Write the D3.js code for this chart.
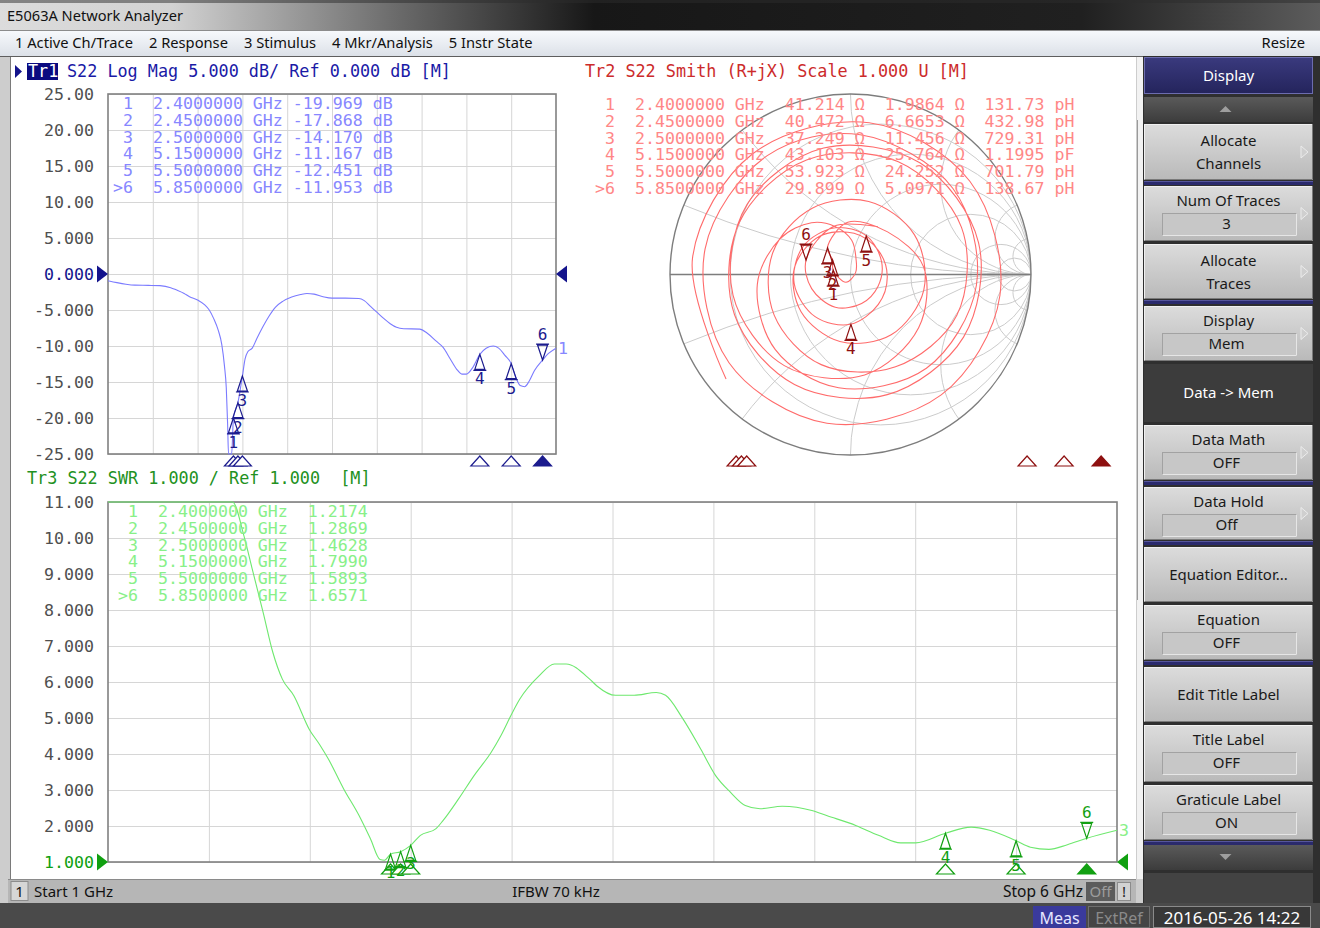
<!DOCTYPE html>
<html>
<head>
<meta charset="utf-8">
<title>E5063A Network Analyzer</title>
<script src="https://cdn.jsdelivr.net/npm/d3@7"></script>
<style>
  html, body { margin: 0; padding: 0; background: #ffffff; overflow: hidden; }
  svg { display: block; }
  text { white-space: pre; }
</style>
</head>
<body>
<svg id="screen" width="1320" height="928"></svg>
<script>
// ---------- data ----------
const menuItems = ["1 Active Ch/Trace", "2 Response", "3 Stimulus", "4 Mkr/Analysis", "5 Instr State"];

// stimulus 1 GHz .. 6 GHz, 10 divisions
const freqGrid = [1.5, 2, 2.5, 3, 3.5, 4, 4.5, 5, 5.5];
const logMagTicks = [25, 20, 15, 10, 5, 0, -5, -10, -15, -20, -25];
const logMagTickLabels = ["25.00", "20.00", "15.00", "10.00", "5.000", "0.000", "-5.000", "-10.00", "-15.00", "-20.00", "-25.00"];
const swrTicks = [11, 10, 9, 8, 7, 6, 5, 4, 3, 2, 1];
const swrTickLabels = ["11.00", "10.00", "9.000", "8.000", "7.000", "6.000", "5.000", "4.000", "3.000", "2.000", "1.000"];
const smithResistances = [0.2, 0.5, 1, 2, 5, 10];
const smithReactances = [0.2, 0.5, 1, 2, 5, 10];

// markers
const markerIds = ["1", "2", "3", "4", "5", "6"];
const markerFreqs = [2.4, 2.45, 2.5, 5.15, 5.5, 5.85];
const markerFreqText = ["2.4000000", "2.4500000", "2.5000000", "5.1500000", "5.5000000", "5.8500000"];
const markerLogMag = [-19.969, -17.868, -14.170, -11.167, -12.451, -11.953];
const markerSwr = [1.2174, 1.2869, 1.4628, 1.7990, 1.5893, 1.6571];
const markerR = [41.214, 40.472, 37.249, 43.103, 53.923, 29.899];
const markerX = [1.9864, 6.6653, 11.456, -25.764, 24.252, 5.0971];
const markerLC = ["131.73 pH", "432.98 pH", "729.31 pH", "1.1995 pF", "701.79 pH", "138.67 pH"];
const activeMarker = 5;

// Tr1 S22 log magnitude (GHz, dB)
const logMagFreq = [1.00, 1.10, 1.20, 1.30, 1.45, 1.58, 1.70, 1.76, 1.85, 1.91,
  2.00, 2.08, 2.13, 2.18, 2.23, 2.27, 2.30, 2.32, 2.335, 2.345,
  2.36, 2.38, 2.40, 2.45, 2.50, 2.53, 2.56, 2.61, 2.66, 2.73,
  2.80, 2.87, 2.95, 3.05, 3.15, 3.22, 3.30, 3.40, 3.50, 3.65,
  3.80, 3.86, 3.93, 4.00, 4.07, 4.15, 4.22, 4.30, 4.48, 4.56,
  4.66, 4.74, 4.82, 4.89, 4.95, 5.00, 5.07, 5.15, 5.22, 5.30,
  5.36, 5.43, 5.50, 5.55, 5.60, 5.65, 5.70, 5.76, 5.85, 5.92, 6.00];
const logMagDb = [-0.93, -1.20, -1.42, -1.55, -1.58, -1.62, -1.90, -2.20, -2.70, -3.15,
  -3.60, -4.30, -5.00, -6.20, -7.80, -9.80, -12.80, -15.80, -20.80, -27.0,
  -32.0, -26.0, -19.969, -17.868, -14.170, -11.8, -10.8, -10.3, -9.0, -7.3,
  -5.8, -4.6, -3.8, -3.2, -2.85, -2.70, -2.80, -3.15, -3.35, -3.35,
  -3.40, -3.70, -4.50, -5.30, -6.10, -6.90, -7.40, -7.60, -7.65, -8.20,
  -9.30, -10.20, -11.80, -13.20, -13.90, -13.90, -13.00, -11.167, -10.30, -10.00,
  -10.30, -11.30, -12.451, -14.30, -15.50, -15.65, -14.90, -13.40, -11.953, -11.00, -10.30];

// Tr2 S22 on the Smith chart (|reflection|, phase in degrees, unwrapped)
const smithMag = [0.900, 0.880, 0.861, 0.847, 0.839, 0.836, 0.835, 0.834, 0.832, 0.818,
  0.804, 0.776, 0.741, 0.700, 0.668, 0.631, 0.589, 0.519, 0.437, 0.359,
  0.280, 0.190, 0.090, 0.030, 0.050, 0.099, 0.128, 0.195,
  0.290, 0.313, 0.407, 0.479, 0.562, 0.624, 0.661, 0.692, 0.716, 0.729,
  0.731, 0.716, 0.696, 0.684, 0.680, 0.680, 0.680, 0.678, 0.668, 0.631,
  0.569, 0.525, 0.479, 0.447, 0.424, 0.417, 0.417, 0.415, 0.403, 0.376,
  0.343, 0.313, 0.272, 0.229, 0.204, 0.204, 0.226, 0.276,
  0.305, 0.316, 0.305, 0.272, 0.232,
  0.186, 0.166, 0.172, 0.200, 0.229, 0.259, 0.282, 0.305];
const smithPhase = [-140, -186, -231, -277, -322, -368, -413, -459, -504, -550,
  -595, -634, -680, -725, -771, -816, -855, -894, -927, -953,
  -972, -992, -1010, -1060, -1200, -1274, -1299, -1309,
  -1347, -1391, -1434, -1478, -1522, -1566, -1610, -1654, -1698, -1742,
  -1786, -1829, -1873, -1917, -1961, -2005, -2049, -2093, -2137, -2181,
  -2224, -2268, -2312, -2356, -2400, -2444, -2488, -2532, -2576, -2619,
  -2663, -2707, -2751, -2795, -2839, -2883, -2927, -2970,
  -3010, -3051, -3091, -3132, -3172,
  -3218, -3263, -3309, -3355, -3400, -3438, -3491, -3540];

// Tr3 S22 SWR (GHz, ratio)
const swrFreq = [1.00, 1.20, 1.40, 1.55, 1.617, 1.674, 1.712, 1.769, 1.817, 1.864,
  1.921, 1.997, 2.05, 2.092, 2.168, 2.244, 2.30, 2.348, 2.37, 2.40,
  2.45, 2.50, 2.548, 2.624, 2.66, 2.738, 2.814, 2.899, 2.946, 3.003,
  3.04, 3.136, 3.212, 3.27, 3.387, 3.423, 3.515, 3.607, 3.717, 3.763,
  3.845, 3.937, 4.011, 4.084, 4.158, 4.231, 4.341, 4.488, 4.561, 4.708,
  4.818, 4.928, 5.002, 5.15, 5.277, 5.369, 5.50, 5.571, 5.663, 5.754, 5.85, 6.00];
const swrVal = [18.5, 12.6, 11.4, 11.1, 11.0, 10.05, 9.2, 7.93, 6.82, 6.08,
  5.62, 4.69, 4.25, 3.86, 3.03, 2.29, 1.65, 1.07, 1.05, 1.2174,
  1.2869, 1.4628, 1.74, 1.92, 2.15, 2.76, 3.40, 4.05, 4.50, 5.14,
  5.52, 6.17, 6.50, 6.50, 6.08, 5.89, 5.63, 5.63, 5.71, 5.63,
  5.01, 4.14, 3.40, 2.94, 2.57, 2.48, 2.55, 2.43, 2.29, 2.01,
  1.74, 1.53, 1.53, 1.799, 1.97, 1.88, 1.5893, 1.41, 1.35, 1.48, 1.6571, 1.88];

// soft keys
const softkeys = [
  { label: ["Allocate", "Channels"], arrow: true },
  { label: ["Num Of Traces"], value: "3", arrow: true },
  { label: ["Allocate", "Traces"], arrow: true },
  { label: ["Display"], value: "Mem", arrow: true },
  { label: ["Data -> Mem"], dark: true },
  { label: ["Data Math"], value: "OFF", arrow: true },
  { label: ["Data Hold"], value: "Off", arrow: true },
  { label: ["Equation Editor..."] },
  { label: ["Equation"], value: "OFF" },
  { label: ["Edit Title Label"] },
  { label: ["Title Label"], value: "OFF" },
  { label: ["Graticule Label"], value: "ON" }
];

// ---------- setup ----------
const MONO = "'DejaVu Sans Mono', monospace";
const UI = "'Noto Sans', 'DejaVu Sans', sans-serif";
const TR1 = { header: "#1a1aa6", trace: "#7b7bff", table: "#8787ff", marker: "#1c1c8e", ref: "#14148c" };
const TR2 = { header: "#cc2b2b", trace: "#ff6b6b", table: "#ff8787", marker: "#8e1010" };
const TR3 = { header: "#229122", trace: "#6ee86e", table: "#88f088", marker: "#12a012", ref: "#10a010" };

const svg = d3.select("#screen");
const defs = svg.append("defs");

function gradient(id, stops, x2, y2) {
  const g = defs.append("linearGradient").attr("id", id)
    .attr("x1", 0).attr("y1", 0).attr("x2", x2).attr("y2", y2);
  stops.forEach(s => g.append("stop").attr("offset", s[0]).attr("stop-color", s[1]));
}
gradient("titleGrad", [[0, "#dcdcdc"], [0.13, "#d2d2d2"], [0.3, "#6b6b6b"], [0.45, "#171717"], [0.82, "#202020"], [1, "#5c5c5c"]], 1, 0);
gradient("menuGrad", [[0, "#f8fafd"], [1, "#dce1e8"]], 0, 1);
gradient("keyGrad", [[0, "#dcdcdc"], [1, "#b9b9b9"]], 0, 1);
gradient("barGrad", [[0, "#5a5a5a"], [1, "#3c3c3c"]], 0, 1);
gradient("navyGrad", [[0, "#3a3a7e"], [1, "#24245c"]], 0, 1);

function label(g, x, y, txt, opts) {
  return g.append("text")
    .attr("x", x).attr("y", y)
    .attr("xml:space", "preserve")
    .attr("font-family", opts.font || MONO)
    .attr("font-size", opts.size || 16.6)
    .attr("fill", opts.fill || "#000")
    .attr("text-anchor", opts.anchor || "start")
    .text(txt);
}

// ---------- window chrome ----------
svg.append("rect").attr("width", 1320).attr("height", 928).attr("fill", "#3f3f3f");
svg.append("rect").attr("width", 1320).attr("height", 30).attr("fill", "url(#titleGrad)");
svg.append("rect").attr("width", 1320).attr("height", 3).attr("fill", "#2c2c2c").attr("opacity", 0.5);
label(svg, 7, 21, "E5063A Network Analyzer", { font: UI, size: 14.6, fill: "#111" });

svg.append("rect").attr("y", 30).attr("width", 1320).attr("height", 26).attr("fill", "url(#menuGrad)");
svg.append("line").attr("x1", 0).attr("x2", 1320).attr("y1", 30.5).attr("y2", 30.5).attr("stroke", "#8c8c8c");
let menuX = 15;
menuItems.forEach(m => {
  const t = label(svg, menuX, 48, m, { font: UI, size: 14.7, fill: "#111" });
  menuX += t.node().getComputedTextLength() + 16;
});
label(svg, 1305, 48, "Resize", { font: UI, size: 14.7, fill: "#111", anchor: "end" });

// instrument frame and white measurement area
svg.append("rect").attr("y", 56).attr("width", 1143).attr("height", 847).attr("fill", "#cdcdcd");
svg.append("line").attr("x1", 0).attr("x2", 1143).attr("y1", 56.5).attr("y2", 56.5).attr("stroke", "#5e5e5e");
svg.append("rect").attr("x", 11).attr("y", 57).attr("width", 1125).attr("height", 822).attr("fill", "#ffffff");
svg.append("line").attr("x1", 10.5).attr("x2", 10.5).attr("y1", 57).attr("y2", 903).attr("stroke", "#7a7a7a");
svg.append("rect").attr("x", 1137).attr("y", 57).attr("width", 6).attr("height", 822).attr("fill", "#f2f2f2");
svg.append("line").attr("x1", 1137.5).attr("x2", 1137.5).attr("y1", 120).attr("y2", 600).attr("stroke", "#9a9a9a");

// ---------- shared drawing helpers ----------
function graticule(g, x, y, box, ticks, tickLabels, refValue, refColor) {
  g.append("g")
    .attr("transform", `translate(0,${box.bottom})`)
    .call(d3.axisBottom(x).tickValues(freqGrid).tickSize(-(box.bottom - box.top)).tickFormat(""))
    .call(a => a.select(".domain").remove())
    .call(a => a.selectAll("line").attr("stroke", "#d6d6d6"));
  g.append("g")
    .attr("transform", `translate(${box.left},0)`)
    .call(d3.axisLeft(y).tickValues(ticks).tickSize(-(box.right - box.left)).tickPadding(14)
      .tickFormat((d, i) => tickLabels[i]))
    .call(a => a.select(".domain").remove())
    .call(a => a.selectAll("line").attr("stroke", "#d6d6d6"))
    .call(a => a.selectAll("text")
      .attr("font-family", MONO).attr("font-size", 16.6)
      .attr("fill", d => d === refValue ? refColor : "#4f4f4f"));
  g.append("rect")
    .attr("x", box.left).attr("y", box.top)
    .attr("width", box.right - box.left).attr("height", box.bottom - box.top)
    .attr("fill", "none").attr("stroke", "#808080").attr("stroke-width", 1.6);
  const ry = y(refValue);
  g.append("path").attr("d", `M${box.left - 11},${ry - 8.5}L${box.left},${ry}L${box.left - 11},${ry + 8.5}Z`).attr("fill", refColor);
  g.append("path").attr("d", `M${box.right + 11},${ry - 8.5}L${box.right},${ry}L${box.right + 11},${ry + 8.5}Z`).attr("fill", refColor);
}

function marker(g, x, y, id, color, active, labelGap) {
  const s = active ? -1 : 1;
  g.append("path")
    .attr("d", `M${x},${y}L${x - 5},${y + 15 * s}L${x + 5},${y + 15 * s}Z M${x - 6.5},${y + 16 * s}H${x + 6.5}`)
    .attr("fill", "none").attr("stroke", color).attr("stroke-width", 1.2);
  const gap = labelGap || 30;
  label(g, x, active ? y - 20 : y + gap, id, { size: 16, fill: color, anchor: "middle" });
}

function stimulusMark(g, x, y0, color, active) {
  g.append("path")
    .attr("d", `M${x},${y0}L${x + 9},${y0 + 10}L${x - 9},${y0 + 10}Z`)
    .attr("fill", active ? color : "#ffffff").attr("stroke", color).attr("stroke-width", 1.2);
}

function header(g, x, y, txt, color) {
  return label(g, x, y, txt, { fill: color, size: 16.8 });
}

// ---------- Tr1 : Log Mag ----------
const gLog = svg.append("g");
const lm = { left: 108, right: 556, top: 94, bottom: 454 };
const xLog = d3.scaleLinear().domain([1, 6]).range([lm.left, lm.right]);
const yLog = d3.scaleLinear().domain([-25, 25]).range([lm.bottom, lm.top]).clamp(true);
graticule(gLog, xLog, yLog, lm, logMagTicks, logMagTickLabels, 0, TR1.ref);

gLog.append("path").attr("d", "M15,65L22,71.5L15,78Z").attr("fill", TR1.ref);
gLog.append("rect").attr("x", 27).attr("y", 63).attr("width", 31).attr("height", 17).attr("fill", "#0a0a80");
label(gLog, 28, 77, "Tr1", { fill: "#ffffff", size: 16.8 });
header(gLog, 67, 77, "S22 Log Mag 5.000 dB/ Ref 0.000 dB [M]", TR1.header);

gLog.append("path")
  .datum(d3.zip(logMagFreq, logMagDb))
  .attr("d", d3.line().x(d => xLog(d[0])).y(d => yLog(d[1])).curve(d3.curveMonotoneX))
  .attr("fill", "none").attr("stroke", TR1.trace).attr("stroke-width", 1.1);
label(gLog, 558, yLog(logMagDb[logMagDb.length - 1]) + 6, "1", { fill: TR1.table });

markerFreqs.forEach((f, i) => {
  marker(gLog, xLog(f), yLog(markerLogMag[i]), markerIds[i], TR1.marker, i === activeMarker);
  stimulusMark(gLog, xLog(f), lm.bottom + 2, TR1.marker, i === activeMarker);
});
markerIds.forEach((id, i) => {
  const row = (i === activeMarker ? ">" : " ") + id + "  " + markerFreqText[i] + " GHz " +
    markerLogMag[i].toFixed(3).padStart(7) + " dB";
  label(gLog, 113, 109 + i * 16.8, row, { fill: TR1.table });
});

// ---------- Tr2 : Smith chart ----------
const gSmith = svg.append("g");
const sm = { cx: 850.5, cy: 274.5, r: 180.5 };
const gRe = d3.scaleLinear().domain([-1, 1]).range([sm.cx - sm.r, sm.cx + sm.r]);
const gIm = d3.scaleLinear().domain([-1, 1]).range([sm.cy + sm.r, sm.cy - sm.r]);
const gMag = d3.scaleLinear().domain([0, 1]).range([0, sm.r]);
const gAng = d3.scaleLinear().domain([0, 360]).range([Math.PI / 2, Math.PI / 2 - 2 * Math.PI]);
const xSmith = d3.scaleLinear().domain([1, 6]).range([588, 1117]);

header(gSmith, 585, 77, "Tr2 S22 Smith (R+jX) Scale 1.000 U [M]", TR2.header);

defs.append("clipPath").attr("id", "smithClip")
  .append("circle").attr("cx", sm.cx).attr("cy", sm.cy).attr("r", sm.r);
const smithGrid = gSmith.append("g").attr("clip-path", "url(#smithClip)")
  .attr("fill", "none").attr("stroke", "#cbcbcb").attr("stroke-width", 1);
smithResistances.forEach(r => smithGrid.append("circle")
  .attr("cx", gRe(r / (1 + r))).attr("cy", gIm(0)).attr("r", gMag(1 / (1 + r))));
smithReactances.forEach(x => [x, -x].forEach(v => smithGrid.append("circle")
  .attr("cx", gRe(1)).attr("cy", gIm(1 / v)).attr("r", gMag(1 / x))));
gSmith.append("line")
  .attr("x1", gRe(-1)).attr("x2", gRe(1)).attr("y1", gIm(0)).attr("y2", gIm(0))
  .attr("stroke", "#7d7d7d").attr("stroke-width", 1.6);
gSmith.append("circle").attr("cx", sm.cx).attr("cy", sm.cy).attr("r", sm.r)
  .attr("fill", "none").attr("stroke", "#7d7d7d").attr("stroke-width", 1.4);

gSmith.append("path")
  .attr("transform", `translate(${sm.cx},${sm.cy})`)
  .datum(d3.zip(smithMag, smithPhase))
  .attr("d", d3.lineRadial().angle(d => gAng(d[1])).radius(d => gMag(d[0])).curve(d3.curveCatmullRom.alpha(0.5)))
  .attr("fill", "none").attr("stroke", TR2.trace).attr("stroke-width", 1.1);

markerIds.forEach((id, i) => {
  const zr = markerR[i] / 50, zx = markerX[i] / 50;
  const den = (zr + 1) * (zr + 1) + zx * zx;
  const re = (zr * zr + zx * zx - 1) / den, im = 2 * zx / den;
  marker(gSmith, gRe(re), gIm(im), id, TR2.marker, i === activeMarker);
  stimulusMark(gSmith, xSmith(markerFreqs[i]), 456, TR2.marker, i === activeMarker);
  const row = (i === activeMarker ? ">" : " ") + id + "  " + markerFreqText[i] + " GHz  " +
    markerR[i].toFixed(3).padStart(6) + " \u03A9 " + markerX[i].toPrecision(5).padStart(7) + " \u03A9  " + markerLC[i];
  label(gSmith, 595, 110 + i * 16.75, row, { fill: TR2.table });
});

// ---------- Tr3 : SWR ----------
const gSwr = svg.append("g");
const sw = { left: 108, right: 1117, top: 502, bottom: 862 };
const xSwr = d3.scaleLinear().domain([1, 6]).range([sw.left, sw.right]);
const ySwr = d3.scaleLinear().domain([1, 11]).range([sw.bottom, sw.top]).clamp(true);
header(gSwr, 27, 484, "Tr3 S22 SWR 1.000 / Ref 1.000  [M]", TR3.header);
graticule(gSwr, xSwr, ySwr, sw, swrTicks, swrTickLabels, 1, TR3.ref);

gSwr.append("path")
  .datum(d3.zip(swrFreq, swrVal))
  .attr("d", d3.line().x(d => xSwr(d[0])).y(d => ySwr(d[1])).curve(d3.curveMonotoneX))
  .attr("fill", "none").attr("stroke", TR3.trace).attr("stroke-width", 1.1);
label(gSwr, 1119, ySwr(swrVal[swrVal.length - 1]) + 6, "3", { fill: TR3.table });

markerFreqs.forEach((f, i) => {
  stimulusMark(gSwr, xSwr(f), sw.bottom + 2, TR3.marker, i === activeMarker);
  marker(gSwr, xSwr(f), ySwr(markerSwr[i]), markerIds[i], TR3.marker, i === activeMarker, i < 3 ? 24 : 30);
});
markerIds.forEach((id, i) => {
  const row = (i === activeMarker ? ">" : " ") + id + "  " + markerFreqText[i] + " GHz  " + markerSwr[i].toFixed(4);
  label(gSwr, 118, 517 + i * 16.75, row, { fill: TR3.table });
});

// ---------- channel status bar ----------
svg.append("rect").attr("x", 8).attr("y", 879).attr("width", 1128).attr("height", 24).attr("fill", "#b6b6b6");
svg.append("line").attr("x1", 8).attr("x2", 1136).attr("y1", 879.5).attr("y2", 879.5).attr("stroke", "#8a8a8a");
svg.append("rect").attr("x", 11).attr("y", 881.5).attr("width", 17).attr("height", 19).attr("fill", "#d6d6d6").attr("stroke", "#8c8c8c");
label(svg, 19.5, 897, "1", { font: UI, size: 15, fill: "#111", anchor: "middle" });
label(svg, 34, 897, "Start 1 GHz", { font: UI, size: 15, fill: "#111" });
label(svg, 556, 897, "IFBW 70 kHz", { font: UI, size: 15, fill: "#111", anchor: "middle" });
label(svg, 1083, 897, "Stop 6 GHz", { font: UI, size: 15.5, fill: "#111", anchor: "end" });
svg.append("rect").attr("x", 1086).attr("y", 882).attr("width", 29).attr("height", 19).attr("fill", "#5c5c5c");
label(svg, 1100.5, 897, "Off", { font: UI, size: 15, fill: "#9c9c9c", anchor: "middle" });
svg.append("rect").attr("x", 1117.5).attr("y", 882.5).attr("width", 13).attr("height", 18).attr("fill", "#d2d2d2").attr("stroke", "#8c8c8c");
label(svg, 1124, 897, "!", { font: UI, size: 15, fill: "#222", anchor: "middle" });

// ---------- instrument status bar ----------
svg.append("rect").attr("y", 903).attr("width", 1320).attr("height", 25).attr("fill", "#4a4a4a");
svg.append("rect").attr("x", 1033).attr("y", 906).attr("width", 53).attr("height", 22).attr("fill", "#3a3a9c");
label(svg, 1059.5, 924, "Meas", { font: UI, size: 16, fill: "#e6e6ff", anchor: "middle" });
svg.append("rect").attr("x", 1088.5).attr("y", 906.5).attr("width", 61).attr("height", 21).attr("fill", "#454545").attr("stroke", "#6e6e6e");
label(svg, 1119, 924, "ExtRef", { font: UI, size: 16, fill: "#8a8a8a", anchor: "middle" });
svg.append("rect").attr("x", 1153.5).attr("y", 906.5).attr("width", 157).attr("height", 21).attr("fill", "#383838").attr("stroke", "#8a8a8a");
label(svg, 1232, 924, "2016-05-26 14:22", { font: UI, size: 17, fill: "#ffffff", anchor: "middle" });

// ---------- soft key panel ----------
const KX = 1144, KW = 169, KC = KX + KW / 2;
const softkeyRows = [[124, 180], [186, 241], [244, 299], [306, 361], [364, 422], [425, 480],
  [487, 540], [547, 602], [605, 660], [667, 722], [725, 782], [785, 840]];
const softkeySeparators = [181, 300, 481, 541, 661, 841];

svg.append("rect").attr("x", 1143).attr("y", 56).attr("width", 177).attr("height", 847).attr("fill", "#2f2f2f");
svg.append("rect").attr("x", KX + 0.5).attr("y", 57.5).attr("width", KW - 1).attr("height", 36).attr("fill", "url(#navyGrad)").attr("stroke", "#6c6cae");
label(svg, KC, 81, "Display", { font: UI, size: 15, fill: "#ffffff", anchor: "middle" });
svg.append("rect").attr("x", KX).attr("y", 97).attr("width", KW).attr("height", 25).attr("fill", "url(#barGrad)");
svg.append("path").attr("d", `M${KC - 3},106L${KC + 3},112L${KC - 9},112Z`).attr("fill", "#9e9e9e");

softkeys.forEach((k, i) => {
  const [t, b] = softkeyRows[i];
  const mid = (t + b) / 2;
  svg.append("rect").attr("x", KX).attr("y", t).attr("width", KW).attr("height", b - t)
    .attr("fill", k.dark ? "#3c3c3c" : "url(#keyGrad)");
  if (!k.dark) {
    svg.append("path").attr("d", `M${KX + 0.5},${b}V${t + 0.5}H${KX + KW - 0.5}`).attr("fill", "none").attr("stroke", "#f0f0f0");
    svg.append("path").attr("d", `M${KX + 0.5},${b - 0.5}H${KX + KW - 0.5}V${t}`).attr("fill", "none").attr("stroke", "#7a7a7a");
  }
  const color = k.dark ? "#ffffff" : "#1a1a1a";
  if (k.value) {
    label(svg, KC, t + 20, k.label[0], { font: UI, size: 15, fill: color, anchor: "middle" });
    svg.append("rect").attr("x", 1162.5).attr("y", t + 27.5).attr("width", 134).attr("height", 22)
      .attr("fill", "#c7c7c7").attr("stroke", "#a2a2a2");
    svg.append("path").attr("d", `M1162.5,${t + 49.5}H1296.5V${t + 27.5}`).attr("fill", "none").attr("stroke", "#e6e6e6");
    label(svg, KC - 2, t + 43, k.value, { font: UI, size: 15, fill: color, anchor: "middle" });
  } else if (k.label.length === 2) {
    label(svg, KC, t + 22, k.label[0], { font: UI, size: 15, fill: color, anchor: "middle" });
    label(svg, KC, t + 45, k.label[1], { font: UI, size: 15, fill: color, anchor: "middle" });
  } else {
    label(svg, KC, mid + 5, k.label[0], { font: UI, size: 15, fill: color, anchor: "middle" });
  }
  if (k.arrow) {
    svg.append("path").attr("d", `M1301,${mid - 6}L1308,${mid}L1301,${mid + 6}Z`)
      .attr("fill", "#cfcfcf").attr("stroke", "#ececec");
  }
});
softkeySeparators.forEach(y => {
  svg.append("rect").attr("x", KX).attr("y", y).attr("width", KW).attr("height", 4).attr("fill", "#2a2a6c");
  svg.append("line").attr("x1", KX).attr("x2", KX + KW).attr("y1", y + 0.5).attr("y2", y + 0.5).attr("stroke", "#55559c");
});
svg.append("rect").attr("x", KX).attr("y", 845).attr("width", KW).attr("height", 25).attr("fill", "url(#barGrad)");
svg.append("path").attr("d", `M${KC - 9},854L${KC + 3},854L${KC - 3},860Z`).attr("fill", "#9e9e9e");
svg.append("rect").attr("x", KX).attr("y", 873).attr("width", KW).attr("height", 30).attr("fill", "#434343");
</script>
</body>
</html>
